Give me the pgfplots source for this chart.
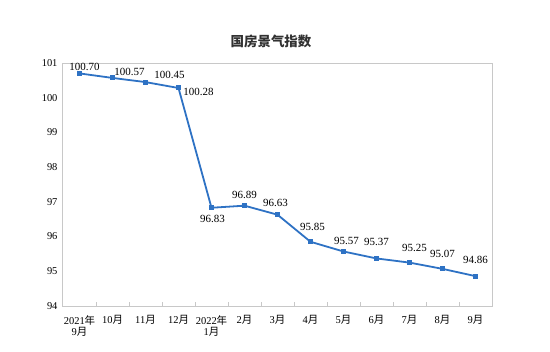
\documentclass[border=0pt]{standalone}
\usepackage{pgfplots}
\pgfplotsset{compat=1.18}
\usepackage{pgfplotstable}
\usepackage{fontspec}
\setmainfont{Liberation Serif}
\newfontfamily\cjk{Noto Sans CJK SC}
\definecolor{lineblue}{RGB}{46,114,196}
\definecolor{framegray}{RGB}{200,200,200}
\definecolor{titlegray}{RGB}{50,50,50}
\pgfplotstableread{
x y dx dy
0 100.70 5 6
1 100.57 17 6
2 100.45 24 7
3 100.28 20 -4
4 96.83 1 -11
5 96.89 0 11
6 96.63 -2 12
7 95.85 2 15
8 95.57 3 11
9 95.37 0 16
10 95.25 5 15
11 95.07 0 15
12 94.86 0 16
}\datatable
\begin{document}
\begin{tikzpicture}
\path[use as bounding box] (0,0) rectangle (550bp,352bp);
\node[text=titlegray, font=\cjk\bfseries\fontsize{13.5}{16}\selectfont] at (271bp,311bp) {国房景气指数};
\begin{axis}[
  at={(63bp,46bp)}, anchor=south west,
  scale only axis, width=429bp, height=243bp,
  xmin=-0.5, xmax=12.5, ymin=94, ymax=101,
  ytick={94,...,101},
  xtick={0,...,12},
  xticklabels={{2021{\cjk 年}\\9{\cjk 月}},10{\cjk 月},11{\cjk 月},12{\cjk 月},{2022{\cjk 年}\\1{\cjk 月}},2{\cjk 月},3{\cjk 月},4{\cjk 月},5{\cjk 月},6{\cjk 月},7{\cjk 月},8{\cjk 月},9{\cjk 月}},
  minor xtick={0.5,1.5,...,11.5},
  major tick length=0pt,
  minor tick length=4bp,
  tick align=inside,
  tick pos=left,
  minor x tick style={framegray, line width=0.8bp},
  ytick style={draw=none},
  axis line style={framegray, line width=1bp},
  xticklabel style={align=center, font=\fontsize{10.5}{11}\selectfont, yshift=-6bp, anchor=north},
  yticklabel style={font=\fontsize{10.5}{12}\selectfont, xshift=-2bp},
  /pgf/number format/assume math mode=true,
  clip=false,
]
\addplot[lineblue, line width=1.8bp, mark=square*, mark size=1.6bp,
  mark options={fill=lineblue, draw=lineblue},
  nodes near coords,
  point meta=explicit,
  visualization depends on={\thisrow{dx} \as \dx},
  visualization depends on={\thisrow{dy} \as \dy},
  nodes near coords style={anchor=center, xshift=\dx bp, yshift=\dy bp, text=black,
    font=\fontsize{11}{12}\selectfont,
    /pgf/number format/.cd, fixed, fixed zerofill, precision=2, assume math mode=true},
] table[x=x, y=y, meta=y] {\datatable};
\end{axis}
\end{tikzpicture}
\end{document}
